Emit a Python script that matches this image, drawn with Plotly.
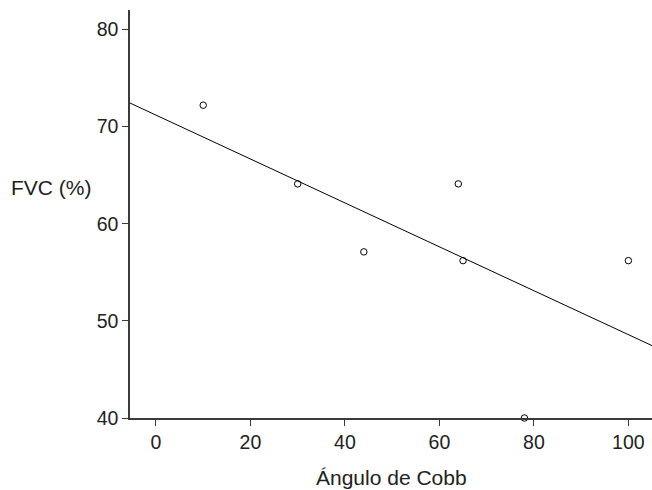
import numpy as np
import plotly.graph_objects as go

cobb = [10, 30, 44, 64, 65, 78, 100]
fvc = [72.2, 64.1, 57.1, 64.1, 56.2, 40.0, 56.2]
x_ticks = [0, 20, 40, 60, 80, 100]
y_ticks = [40, 50, 60, 70, 80]
x_range = [-5.5, 105]
y_range = [40, 82]

slope, intercept = np.polyfit(cobb, fvc, 1)
lx = np.array(x_range)
ly = intercept + slope * lx

fig = go.Figure()
fig.add_trace(go.Scatter(x=lx, y=ly, mode="lines",
                         line=dict(color="black", width=1), showlegend=False,
                         hoverinfo="skip"))
fig.add_trace(go.Scatter(x=cobb, y=fvc, mode="markers",
                         marker=dict(symbol="circle-open", size=6.5,
                                     color="black", line=dict(width=1)),
                         showlegend=False, cliponaxis=False))

fam = "Liberation Sans, Arial, sans-serif"
tick_font = dict(family=fam, size=19.5, color="#222")
title_font = dict(family=fam, size=21, color="#222")

W, H = 652, 490
L, R, T, B = 130, 0, 10, 72
pw, ph = W - L - R, H - T - B

def px_to_paper_x(px):
    return (px - L) / pw

def px_to_paper_y(py):
    return (H - B - py) / ph

fig.update_layout(
    width=W, height=H,
    margin=dict(l=L, r=R, t=T, b=B),
    plot_bgcolor="white", paper_bgcolor="white",
    font=tick_font,
    xaxis=dict(range=x_range, tickvals=x_ticks, showgrid=False, zeroline=False,
               showline=True, linecolor="#3a3a3a", linewidth=1.5,
               ticks="outside", ticklen=6, tickcolor="#3a3a3a", tickwidth=1,
               tickfont=tick_font),
    yaxis=dict(range=y_range, tickvals=y_ticks, showgrid=False, zeroline=False,
               showline=True, linecolor="#3a3a3a", linewidth=1.5,
               ticks="outside", ticklen=6, tickcolor="#3a3a3a", tickwidth=1,
               tickfont=tick_font),
    annotations=[
        dict(text="FVC (%)", xref="paper", yref="paper",
             x=px_to_paper_x(9), y=px_to_paper_y(187),
             xanchor="left", yanchor="middle", showarrow=False,
             font=title_font),
        dict(text="Ángulo de Cobb", xref="paper", yref="paper",
             x=px_to_paper_x(391), y=px_to_paper_y(477),
             xanchor="center", yanchor="middle", showarrow=False,
             font=title_font),
    ],
)
fig.write_html("out.html",
               config={"displayModeBar": False},
               post_script="document.body.style.margin='0';"
                           "document.body.style.overflow='hidden';")
